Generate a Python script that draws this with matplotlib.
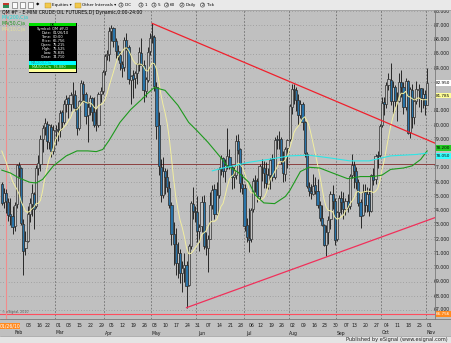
import matplotlib
matplotlib.use("Agg")
import matplotlib.pyplot as plt
from matplotlib.patches import Rectangle, Circle
import numpy as np
import pandas as pd

W, H, DPI = 451, 343, 100
plt.rcParams["font.family"] = ["Liberation Sans Narrow", "DejaVu Sans", "Noto Sans CJK SC"]

# ---------------- data ----------------
first_day = "2010-01-22"
last_day = "2010-11-01"
closed_days = ["2010-02-15", "2010-07-05", "2010-09-06"]

opens = [
    75.9, 74.6, 75.215, 74.6, 73.8, 73.6,
    72.9, 74.5, 77.2, 77.0, 73.1, 71.4, 71.9, 73.8, 74.5, 75.2, 74.3, 77.0, 77.3, 79.0, 79.9, 80.1, 78.8, 79.9, 78.2,
    79.6, 79.7, 79.7, 80.9, 80.2, 81.5, 81.9, 81.5, 82.1, 82.1, 81.2, 79.8, 81.7, 82.9, 82.2, 80.7, 81.3, 81.9, 80.9, 80.0, 80.0, 82.2, 82.4,
    83.8, 84.9, 85.0, 86.6, 86.8, 85.9, 85.2, 84.9, 84.3, 84.1, 86.0, 85.5, 83.2, 83.5, 83.3, 83.7, 84.3, 85.1, 84.2, 82.4, 83.2, 85.2,
    86.2, 86.2, 82.7, 80.0, 77.1, 75.1, 76.8, 76.4, 75.6, 74.4, 72.4, 71.7, 70.3, 71.0, 69.6, 70.0, 70.2, 68.8, 71.5, 74.5, 74.0,
    73.9, 72.6, 72.9, 74.6, 71.5, 71.4, 72.0, 74.4, 75.5, 73.8, 75.1, 76.9, 77.7, 76.8, 77.2, 77.8, 77.1, 76.4, 76.5, 78.9, 78.3, 75.9,
    75.6, 73.0, 72.1, 72.0, 74.1, 76.1, 76.1, 75.0, 77.1, 77.0, 76.6, 75.9, 76.5, 77.6, 76.4, 79.0, 79.0, 79.0, 77.5, 76.6, 78.4,
    79.0, 81.3, 82.5, 82.5, 81.8, 80.7, 81.5, 80.2, 78.0, 75.7, 75.4, 75.2, 75.8, 75.4, 74.4, 73.5, 73.0, 71.6, 72.5, 73.4, 75.2, 74.7,
    72.0, 73.9, 74.9, 74.6, 74.1, 74.7, 74.3, 76.5, 77.2, 76.8, 76.0, 74.6, 73.7, 75.3, 74.4, 75.2, 74.0, 76.5, 76.2, 77.9, 77.9,
    80.0, 81.6, 81.5, 82.8, 83.2, 81.7, 82.7, 81.7, 81.7, 83.0, 82.7, 81.3, 83.1, 79.5, 82.5, 80.6, 81.7, 82.5, 82.6, 81.9, 82.2,
    81.4,
]
highs = [
    76.0, 75.6, 75.525, 74.9, 74.9, 74.3,
    74.6, 77.3, 77.4, 77.1, 73.4, 72.6, 74.3, 74.9, 75.9, 75.3, 77.2, 77.9, 79.3, 80.0, 80.5, 80.3, 80.1, 80.1, 80.0,
    80.0, 80.2, 81.1, 81.1, 81.8, 82.1, 82.0, 82.3, 83.0, 82.5, 81.3, 81.8, 83.2, 83.1, 82.3, 81.6, 82.1, 82.0, 82.0, 81.2, 82.3, 82.7, 83.9,
    85.0, 85.3, 86.9, 87.0, 86.9, 86.1, 85.6, 85.2, 84.5, 86.2, 86.5, 85.6, 83.5, 83.9, 83.8, 84.4, 85.5, 86.1, 84.6, 83.4, 85.5, 86.5,
    87.15, 86.3, 83.0, 80.9, 77.6, 77.8, 77.0, 76.9, 76.1, 74.6, 73.2, 72.8, 71.8, 71.3, 70.5, 71.0, 70.5, 71.7, 74.7, 75.7, 74.3,
    75.0, 73.1, 75.0, 75.1, 72.5, 72.3, 75.3, 75.8, 75.9, 76.0, 77.1, 77.9, 77.8, 77.6, 79.8, 78.3, 77.2, 77.1, 79.3, 79.4, 78.4, 76.6,
    75.9, 73.5, 74.2, 74.2, 76.3, 76.5, 76.3, 77.3, 77.6, 77.5, 77.4, 77.0, 77.7, 78.0, 79.2, 79.3, 79.6, 79.2, 78.2, 78.5, 79.0,
    81.5, 82.9, 82.9, 82.7, 82.2, 81.8, 81.6, 80.3, 78.1, 76.0, 75.9, 76.6, 76.4, 76.2, 74.7, 74.4, 73.1, 73.0, 73.6, 75.4, 75.8, 74.9,
    74.0, 75.1, 75.4, 75.3, 74.9, 75.2, 76.6, 78.0, 77.5, 77.1, 76.2, 74.8, 75.9, 75.9, 75.7, 75.6, 76.6, 77.0, 78.0, 78.2, 80.1,
    82.0, 82.0, 83.0, 83.7, 84.4, 83.1, 82.8, 82.3, 83.7, 83.9, 83.0, 83.3, 83.2, 82.7, 82.9, 81.9, 83.1, 82.9, 82.6, 82.6, 82.5,
    84.0,
]
lows = [
    74.4, 74.2, 73.835, 73.3, 73.0, 72.4,
    72.6, 74.2, 76.4, 73.0, 69.5, 70.9, 71.8, 73.2, 73.6, 72.7, 74.2, 76.5, 76.8, 78.1, 79.3, 78.3, 78.3, 77.8, 78.0,
    78.6, 78.9, 79.2, 79.8, 80.1, 80.9, 80.5, 81.0, 81.2, 81.0, 79.3, 79.7, 81.6, 81.6, 80.1, 78.8, 80.7, 80.3, 79.9, 79.6, 79.9, 81.6, 82.2,
    83.5, 84.6, 84.5, 85.9, 85.5, 84.7, 84.6, 83.9, 83.4, 83.8, 85.3, 82.9, 81.5, 81.9, 82.6, 82.9, 83.8, 84.5, 81.6, 82.0, 83.0, 84.9,
    85.8, 82.4, 79.0, 76.5, 74.6, 74.9, 75.2, 75.3, 74.2, 71.6, 70.2, 69.5, 69.3, 68.9, 68.3, 69.0, 67.2, 68.7, 71.3, 73.4, 73.2,
    71.8, 71.2, 72.5, 71.3, 70.9, 69.7, 72.0, 74.1, 73.4, 73.7, 74.9, 76.5, 76.4, 76.0, 76.9, 76.9, 75.5, 75.6, 76.2, 78.0, 75.3, 75.2,
    72.6, 71.8, 71.1, 71.8, 73.9, 75.3, 74.6, 74.8, 76.1, 75.6, 75.6, 75.5, 75.5, 76.1, 76.2, 78.3, 78.3, 77.3, 76.0, 76.1, 77.0,
    78.9, 80.8, 81.5, 81.0, 80.0, 80.5, 79.7, 77.8, 75.6, 75.0, 74.8, 75.1, 75.2, 74.2, 73.3, 72.9, 71.5, 70.8, 71.7, 72.7, 74.1, 71.6,
    71.9, 73.5, 73.8, 73.4, 73.7, 73.9, 74.1, 76.3, 75.6, 75.5, 74.3, 72.8, 73.6, 73.9, 73.9, 73.6, 73.9, 75.8, 75.9, 77.0, 77.8,
    79.9, 80.7, 81.2, 82.5, 81.4, 80.8, 81.3, 80.3, 81.6, 82.0, 80.8, 81.1, 79.4, 79.1, 79.8, 80.1, 81.5, 81.3, 80.9, 81.2, 80.7,
    81.4,
]
closes = [
    74.54, 75.26, 74.71, 73.67, 73.64, 72.89,
    74.43, 77.23, 76.98, 73.14, 71.19, 71.89, 73.75, 74.52, 75.28, 74.13, 77.01, 77.33, 79.06, 79.81, 80.16, 78.86, 80.00, 78.17, 79.66,
    79.70, 79.68, 80.87, 80.21, 81.50, 81.87, 81.49, 82.09, 82.11, 81.24, 79.80, 81.70, 82.93, 82.20, 80.68, 81.25, 81.91, 80.91, 80.00, 80.00, 82.17, 82.37, 83.76,
    84.87, 85.00, 86.62, 86.84, 85.88, 85.24, 84.92, 84.34, 84.05, 86.00, 85.51, 83.24, 83.45, 83.24, 83.68, 84.30, 85.12, 84.20, 82.44, 83.22, 85.17, 86.15,
    86.19, 82.74, 79.97, 77.11, 75.11, 76.80, 76.37, 75.65, 74.39, 72.40, 71.70, 70.30, 71.00, 69.60, 70.00, 70.20, 68.75, 71.51, 74.55, 73.97, 73.90,
    72.58, 72.86, 74.61, 71.51, 71.44, 71.99, 74.38, 75.48, 73.78, 75.12, 76.94, 77.67, 76.79, 77.18, 77.82, 77.12, 76.35, 76.51, 78.86, 78.26, 75.94, 75.63,
    72.95, 72.14, 71.98, 74.07, 76.09, 76.09, 75.00, 77.14, 77.04, 76.62, 75.95, 76.54, 77.58, 76.35, 78.98, 78.98, 79.00, 77.50, 76.64, 78.36, 78.95,
    81.34, 82.55, 82.49, 81.80, 80.70, 81.48, 80.25, 78.02, 75.74, 75.39, 75.24, 75.77, 75.42, 74.43, 73.46, 72.98, 71.63, 72.52, 73.36, 75.17, 74.70, 71.92,
    73.91, 74.91, 74.60, 74.09, 74.67, 74.25, 76.45, 77.19, 76.80, 76.02, 74.57, 73.66, 75.30, 74.40, 75.20, 74.00, 76.49, 76.18, 77.86, 77.86, 79.97,
    81.58, 81.47, 82.82, 83.23, 81.67, 82.66, 81.73, 81.67, 83.01, 82.69, 81.25, 83.08, 79.49, 82.54, 80.56, 81.69, 82.52, 82.55, 81.94, 82.18, 81.43,
    82.95,
]
# closes of the sessions before the first visible bar (feed the 10-bar average)
prior_closes = [79.0, 78.6, 78.2, 78.0, 77.6, 77.4, 79.8, 80.2, 78.6]

ma50_dates = ["2010-01-22", "2010-01-28", "2010-02-03", "2010-02-10", "2010-02-16", "2010-02-19",
              "2010-02-26", "2010-03-08", "2010-03-15", "2010-03-22", "2010-03-26", "2010-03-31",
              "2010-04-05", "2010-04-12", "2010-04-19", "2010-04-26", "2010-04-29", "2010-05-04",
              "2010-05-11", "2010-05-19", "2010-05-26", "2010-06-01", "2010-06-08", "2010-06-15",
              "2010-06-21", "2010-06-28", "2010-07-06", "2010-07-09", "2010-07-15", "2010-07-22",
              "2010-07-29", "2010-08-02", "2010-08-09", "2010-08-13", "2010-08-20", "2010-08-30",
              "2010-09-09", "2010-09-17", "2010-09-27", "2010-10-01", "2010-10-07", "2010-10-15",
              "2010-10-21", "2010-10-27", "2010-11-01"]
ma50_values = [76.85, 76.65, 76.3, 76.0, 75.95, 76.2,
               77.15, 77.85, 78.2, 78.2, 78.15, 78.3,
               78.95, 80.2, 81.1, 81.8, 82.25, 82.65,
               82.45, 81.4, 80.2, 79.6, 78.8, 77.9,
               77.15, 76.7, 76.0, 75.1, 74.55, 74.5,
               75.0, 75.4, 76.75, 77.05, 77.0, 76.65,
               76.25, 76.4, 76.4, 76.5, 76.9, 77.0,
               77.15, 77.6, 78.2]

ma200_dates = ["2010-06-10", "2010-06-17", "2010-06-24", "2010-07-06", "2010-07-19", "2010-08-02",
               "2010-08-13", "2010-08-27", "2010-09-10", "2010-09-23", "2010-10-07", "2010-10-25",
               "2010-11-01"]
ma200_values = [76.8, 77.0, 77.15, 77.4, 77.6, 77.85,
                77.9, 77.7, 77.5, 77.5, 77.85, 77.95,
                78.05]

upper_trend = [("2010-05-03", 87.15), ("2010-08-03", 83.0)]
lower_trend = [("2010-05-25", 67.2), ("2010-08-25", 70.75)]
reference_level = 77.3
cursor_date = "2010-01-26"
cursor_price = 66.756
price_ticks = list(range(67, 89))

info_labels = ["Symbol:", "Date:", "Time:", "Price:", "Open:", "High:", "Low:", "Close:"]
info_values = ["QM #F,D", "01/26/10", "00:00", "66.756", "75.215", "75.525", "73.835", "74.710"]
title = "QM #F - E-MINI CRUDE OIL FUTURES,D] Dynamic,0:00-24:00"

# ---------------- derived ----------------
dates = pd.bdate_range(first_day, last_day)
dates = dates[~dates.isin(pd.to_datetime(closed_days))]
n = len(dates)
assert n == len(opens) == len(highs) == len(lows) == len(closes)
pos = {d.strftime("%Y-%m-%d"): i for i, d in enumerate(dates)}
xi = np.arange(n)
o, h, l, c = map(np.asarray, (opens, highs, lows, closes))
ma10 = pd.Series(prior_closes + closes).rolling(10).mean().to_numpy()[len(prior_closes):]

# ---------------- layout (pixels) ----------------
BG = "#c0c0c0"
PX0, PX_PER_BAR = 1.8, 2.148
PL, PR, PT, PB = 0, 435, 10, 319
Y67, PX_PER_DOLLAR = 310.5, 14.25
xmin = (PL - PX0) / PX_PER_BAR
xmax = (PR - PX0) / PX_PER_BAR
ymax = 67 + (Y67 - PT) / PX_PER_DOLLAR
ymin = 67 - (PB - Y67) / PX_PER_DOLLAR
FS = 3.3
DATE_TAG_RIGHT = 20  # px, width of the cursor date tag at bottom-left

fig = plt.figure(figsize=(W / DPI, H / DPI), dpi=DPI)
fig.patch.set_facecolor(BG)
ax = fig.add_axes([PL / W, 1 - PB / H, (PR - PL) / W, (PB - PT) / H])
ax.set_facecolor(BG)
ax.set_xlim(xmin, xmax)
ax.set_ylim(ymin, ymax)
ax.set_xticks([]); ax.set_yticks([])
for s in ax.spines.values():
    s.set_visible(False)

# grid
for p in price_ticks:
    ax.axhline(p, color="#858585", lw=0.5, ls=(0, (1, 3)), zorder=0.5)
month_first = [i for i in range(1, n) if dates[i].month != dates[i - 1].month]
for i in month_first:
    if dates[i] >= pd.Timestamp("2010-03-01"):
        ax.axvline(i - 0.4, color="#6e6e6e", lw=0.6, ls=(0, (2, 2)), zorder=0.5)

# reference lines
ax.axhline(reference_level, color="#8c4040", lw=0.7, zorder=1.2)
ax.axhline(cursor_price, color="#ff4d5e", lw=0.8, zorder=1.2)
ax.axvline(pos[cursor_date], color="#f08c8c", lw=0.8, zorder=1.2)

# candles
up = c >= o
ax.vlines(xi, l, h, color="#101010", lw=0.6, zorder=2)
bottom = np.minimum(o, c)
height = np.maximum(np.abs(c - o), 0.06)
ax.bar(xi[up], height[up], bottom=bottom[up], width=1.0, color="#c4c4c4",
       edgecolor="#3c3c3c", linewidth=0.55, zorder=2.5)
ax.bar(xi[~up], height[~up], bottom=bottom[~up], width=1.0, color="#2873a8",
       edgecolor="#333333", linewidth=0.55, zorder=2.5)

# moving averages
ax.plot(xi, ma10, color="#f2eea0", lw=0.7, zorder=3)
ax.plot([pos[d] for d in ma50_dates], ma50_values, color="#1d9a1d", lw=0.8, zorder=3)
ax.plot([pos[d] for d in ma200_dates], ma200_values, color="#2ee6e6", lw=0.8, zorder=3)

# trend lines
def trend(pts, color):
    (d1, p1), (d2, p2) = pts
    x1, x2 = pos[d1], pos[d2]
    slope = (p2 - p1) / (x2 - x1)
    ax.plot([x1, xmax], [p1, p1 + slope * (xmax - x1)], color=color, lw=0.9, zorder=4)

trend(upper_trend, "#f0202c")
trend(lower_trend, "#f0305a")

# right price axis: value tags cover the scale labels they sit on
ytr = ax.get_yaxis_transform()
tags = [
    (closes[-1], closes[-1], "#ffffff", "#000000"),
    (ma10[-1] + 0.3, ma10[-1], "#ffff99", "#000000"),
    (ma50_values[-1] + 0.22, ma50_values[-1], "#22cc22", "#000000"),
    (ma200_values[-1] - 0.22, ma200_values[-1], "#33ffff", "#000000"),
    (cursor_price, cursor_price, "#ff8a1f", "#ffffff"),
]
tag_y = [t[0] for t in tags]
for p in price_ticks:
    if min(abs(p - ty) for ty in tag_y) < 0.22:
        continue
    ax.text(449.5 / PR, p + (0.06 if p == 67 else 0), f"{p:.3f}", transform=ytr, ha="right", va="center",
            fontsize=FS, color="#1a1a1a", clip_on=False, zorder=5)

for ty, val, fc, tc in tags:
    ax.add_patch(Rectangle((436 / PR, ty - 0.2), 15 / PR, 0.4, transform=ytr,
                           facecolor=fc, edgecolor="none", clip_on=False, zorder=6))
    ax.text(450 / PR, ty, f"{val:.3f}", transform=ytr, ha="right", va="center",
            fontsize=3.0, color=tc, clip_on=False, zorder=7)

# date axis (labels hidden under the cursor date tag are not drawn)
xtr = ax.get_xaxis_transform()
yday = (PB - 325.5) / (PB - PT)
ymon = (PB - 333.0) / (PB - PT)
week_first = [i for i in range(1, n) if dates[i].isocalendar()[1] != dates[i - 1].isocalendar()[1]]
for i in week_first:
    if PX0 + (i + 1.33) * PX_PER_BAR < DATE_TAG_RIGHT + 4:
        continue
    ax.text(i + 1.33, yday, dates[i].strftime("%d"), transform=xtr, ha="center", va="center",
            fontsize=FS, color="#1a1a1a", clip_on=False)
for i in month_first:
    ax.text(i + 1.9, ymon, dates[i].strftime("%b"), transform=xtr, ha="center", va="center",
            fontsize=FS, color="#1a1a1a", clip_on=False)

# ---------------- chrome overlay (pixel coordinates) ----------------
ov = fig.add_axes([0, 0, 1, 1], zorder=10)
ov.set_xlim(0, W); ov.set_ylim(H, 0); ov.axis("off"); ov.patch.set_alpha(0)

def prect(x0, y0, x1, y1, fc, ec="none", lw=0):
    ov.add_patch(Rectangle((x0, y0), x1 - x0, y1 - y0, facecolor=fc, edgecolor=ec, linewidth=lw))

def ptext(x, y, s, color="#000000", ha="left", fs=FS, **kw):
    ov.text(x, y, s, color=color, ha=ha, va="center", fontsize=fs, **kw)

# axis frame lines
ov.plot([PR, PR], [PT, PB], color="#7a7a7a", lw=0.6)
ov.plot([0, W], [PB, PB], color="#7a7a7a", lw=0.6)

# toolbar
prect(0, 0, W, 9.5, "#e9e9e9")
ov.plot([0, W], [9.5, 9.5], color="#9a9a9a", lw=0.5)
prect(2.5, 2.5, 8.5, 7.5, "#c0392b")
prect(2.5, 5, 8.5, 7.5, "#2e8b57")
for x0 in (12, 20, 28):
    prect(x0, 2, x0 + 5, 8, "#fafafa", ec="#555555", lw=0.4)
ptext(36, 5, "\u25c6", fs=3.2)
for x0 in (45, 75):
    prect(x0, 3, x0 + 6, 7.5, "#f2c94c", ec="#b08a20", lw=0.3)
ptext(52.5, 5, "Equities \u25be", fs=3.0)
ptext(82.0, 5, "Other Intervals \u25be", fs=3.0)
for x, num, lab in [(121, "1", "IDC"), (141, "1", "1"), (154, "1", "5"),
                    (166.5, "2", "60"), (182, "2", "Daily"), (202.5, "2", "Tick")]:
    ov.add_patch(Circle((x, 5), 2.1, facecolor="none", edgecolor="#333333", lw=0.4))
    ptext(x, 5.1, num, ha="center", fs=2.4)
    ptext(x + 3.6, 5, lab, fs=3.0)

# title and study labels
ptext(1.5, 12.3, title, fs=3.3)
ptext(1.5, 18.0, "MA(200,C)a", color="#16d8d8", fs=3.3)
ptext(1.5, 23.7, "MA(50,C)a", color="#179117", fs=3.3)
ptext(1.5, 29.5, "MA(10,C)a", color="#e6e29a", fs=3.3)

# data window
BX0, BX1 = 28.5, 76.5
prect(BX0, 22.8, BX1, 72.5, "#000000")
prect(BX0 + 0.5, 23.2, BX1 - 0.5, 26.5, "#00e000")
ptext((BX0 + BX1) / 2, 24.9, "OK", ha="center", fs=2.6)
for k, (lab, val) in enumerate(zip(info_labels, info_values)):
    yy = 28.8 + 4.0 * k
    ptext(51.5, yy, lab, color="#ffffff", ha="right", fs=2.6)
    ptext(52.5, yy, val, color="#ffffff", fs=2.6)
prect(BX0 + 0.5, 61.3, BX1 - 0.5, 65.0, "#00ffff")
ptext(BX0 + 2, 63.1, "MA(200,C)a", color="#1aa0a0", fs=2.6)
prect(BX0 + 0.5, 65.0, BX1 - 0.5, 68.8, "#0a9a0a")
ptext(BX0 + 3, 66.9, f"MA(50,C)a  {ma50_values[0] + 0.03:.3f}", color="#d0ffd0", fs=2.6)
prect(BX0 + 0.5, 68.8, BX1 - 0.5, 72.2, "#ffff9a")

# copyright note
ptext(1.5, 311.5, "\u00a9 eSignal, 2010", color="#555555", fs=2.3)

# cursor date tag
prect(0, 322.5, DATE_TAG_RIGHT, 328.5, "#ff8a1f")
ptext(DATE_TAG_RIGHT / 2, 325.5, pd.Timestamp(cursor_date).strftime("%m/%d/%y"), color="#ffffff", ha="center", fs=FS)

# footer
prect(0, 335.5, W, H, "#e4e4e4")
ov.plot([0, W], [335.5, 335.5], color="#9a9a9a", lw=0.5)
ptext(447.5, 339.3, "Published by eSignal (www.esignal.com)", ha="right", fs=3.6, color="#202020")

fig.savefig("out.png", dpi=DPI, facecolor=fig.get_facecolor())
